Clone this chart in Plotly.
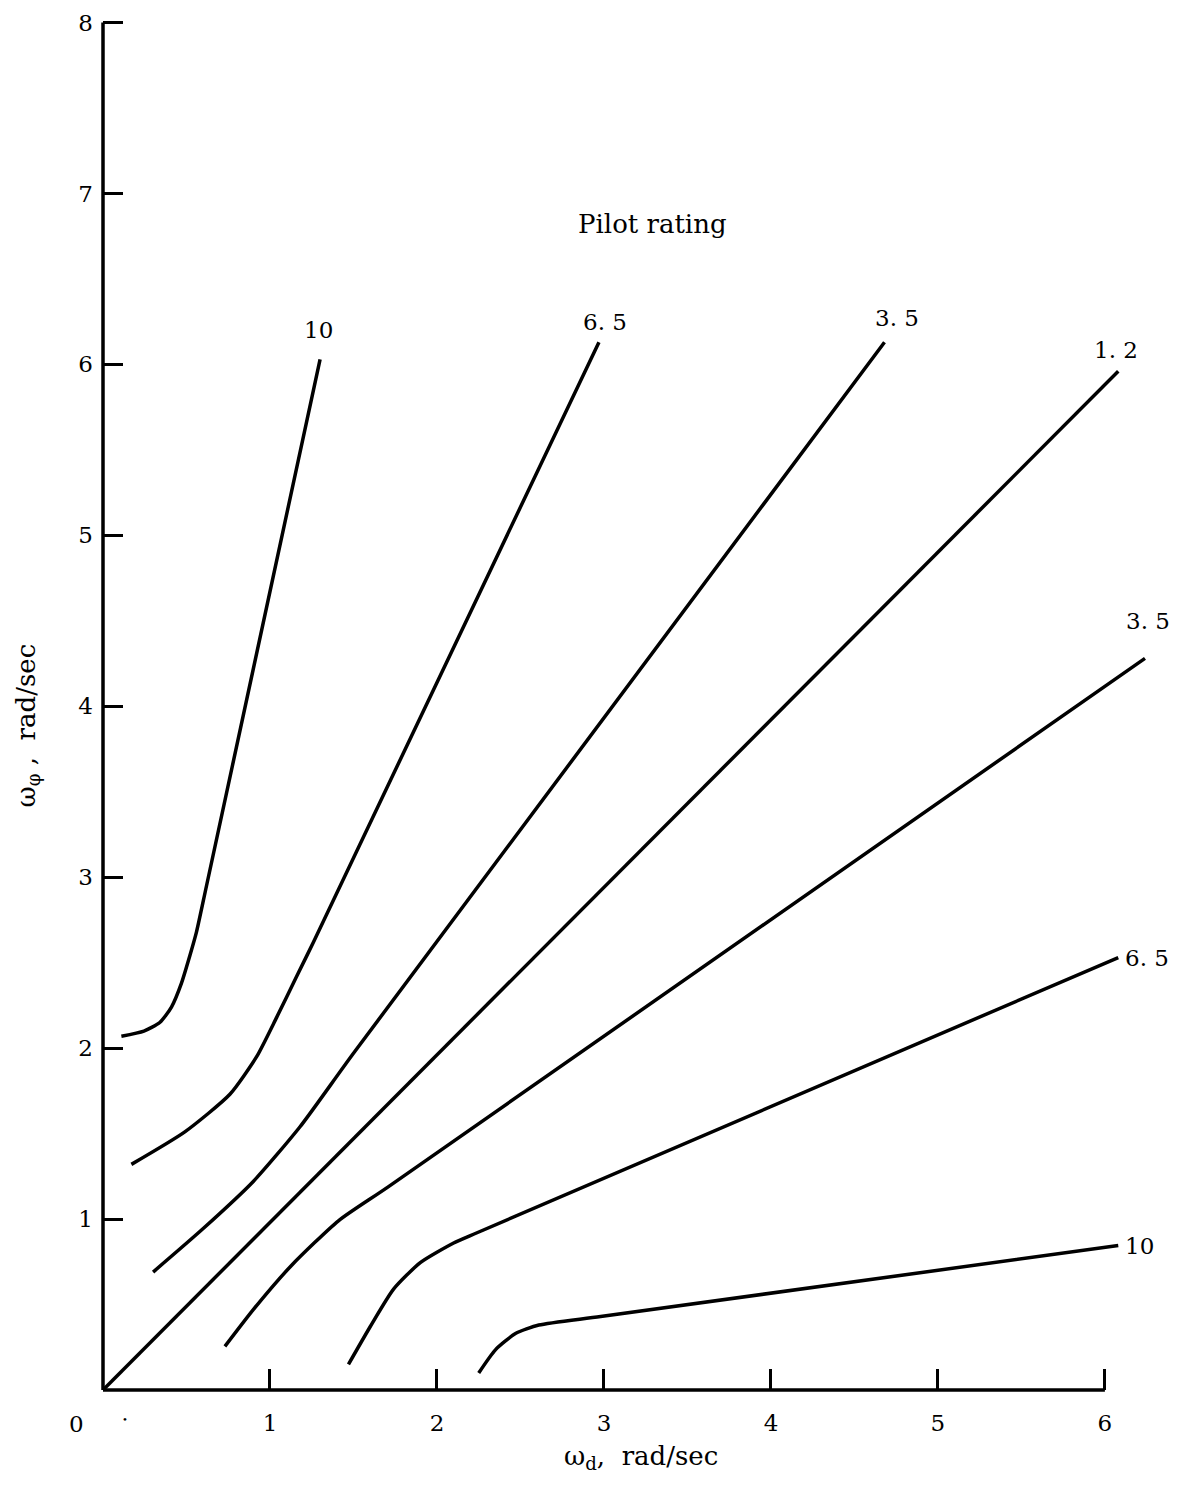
import plotly.graph_objects as go

# ---- data ----
x_tick_vals = [1, 2, 3, 4, 5, 6]
y_tick_vals = [1, 2, 3, 4, 5, 6, 7, 8]

pr10_upper_x = [0.11, 0.245, 0.34, 0.41, 0.47, 0.52, 0.56, 0.62, 1.30]
pr10_upper_y = [2.07, 2.10, 2.15, 2.24, 2.38, 2.54, 2.68, 2.95, 6.03]

pr65_upper_x = [0.17, 0.49, 0.76, 0.92, 1.04, 1.16, 1.26, 2.97]
pr65_upper_y = [1.32, 1.51, 1.73, 1.95, 2.18, 2.42, 2.62, 6.13]

pr35_upper_x = [0.30, 0.595, 0.90, 1.18, 1.50, 4.68]
pr35_upper_y = [0.69, 0.94, 1.22, 1.54, 1.97, 6.13]

pr12_x = [0.0, 6.08]
pr12_y = [0.0, 5.96]

pr35_lower_x = [0.73, 0.90, 1.13, 1.41, 1.71, 6.24]
pr35_lower_y = [0.255, 0.47, 0.73, 0.99, 1.19, 4.28]

pr65_lower_x = [1.47, 1.60, 1.74, 1.90, 2.10, 2.24, 6.08]
pr65_lower_y = [0.15, 0.37, 0.59, 0.745, 0.86, 0.92, 2.53]

pr10_lower_x = [2.25, 2.35, 2.47, 2.61, 2.98, 6.08]
pr10_lower_y = [0.10, 0.235, 0.33, 0.38, 0.43, 0.845]

curves = [
    ("10", pr10_upper_x, pr10_upper_y),
    ("6.5", pr65_upper_x, pr65_upper_y),
    ("3.5", pr35_upper_x, pr35_upper_y),
    ("1.2", pr12_x, pr12_y),
    ("3.5", pr35_lower_x, pr35_lower_y),
    ("6.5", pr65_lower_x, pr65_lower_y),
    ("10", pr10_lower_x, pr10_lower_y),
]

FONT = "DejaVu Serif"

fig = go.Figure()
for name, xs, ys in curves:
    fig.add_trace(go.Scatter(
        x=xs, y=ys, mode="lines", name=name,
        line=dict(color="black", width=3.5, shape="spline", smoothing=0.6),
        showlegend=False, hoverinfo="skip",
    ))

# curve labels (placed relative to each curve's end)
label_specs = [
    (0, "center", -2, 29),
    (1, "center", 6, 20),
    (2, "center", 13, 24),
    (3, "center", -2, 21),
    (4, "center", 3, 37),
    (5, "left", 5, 0),
    (6, "left", 5, 0),
]
annotations = []
for idx, anchor, xs_, ys_ in label_specs:
    name, xs, ys = curves[idx]
    lab = name.replace(".", ". ")
    annotations.append(dict(
        x=xs[-1], y=ys[-1], xref="x", yref="y", text=lab, showarrow=False,
        xanchor=anchor, yanchor="middle", xshift=xs_, yshift=ys_,
        font=dict(family=FONT, size=23, color="black"),
    ))

# plot area: x 103..1155 px, y 14..1390 px
annotations += [
    dict(x=3.29, y=6.82, xref="x", yref="y", text="Pilot rating", showarrow=False,
         xanchor="center", yanchor="middle", font=dict(family=FONT, size=26, color="black")),
    dict(x=-0.0252, y=-0.0247, xref="paper", yref="paper", text="0", showarrow=False,
         xanchor="center", yanchor="middle", font=dict(family=FONT, size=23, color="black")),
    dict(x=0.0209, y=-0.0218, xref="paper", yref="paper", text="•", showarrow=False,
         xanchor="center", yanchor="middle", font=dict(family=FONT, size=10, color="black")),
    dict(x=0.511, y=-0.049, xref="paper", yref="paper", text="ω<sub>d</sub>,  rad/sec",
         showarrow=False, xanchor="center", yanchor="middle",
         font=dict(family=FONT, size=26, color="black")),
    dict(x=-0.0722, y=0.483, xref="paper", yref="paper", text="ω<sub>φ</sub> ,  rad/sec",
         showarrow=False, textangle=-90, xanchor="center", yanchor="middle",
         font=dict(family=FONT, size=26, color="black")),
]

shapes = [
    dict(type="line", xref="x", yref="paper", x0=0, y0=0, x1=6, y1=0,
         line=dict(color="black", width=3.5)),
    dict(type="line", xref="paper", yref="y", x0=0, y0=0, x1=0, y1=8,
         line=dict(color="black", width=3.5)),
]

fig.update_layout(
    width=1179, height=1492,
    margin=dict(l=103, r=24, t=14, b=102, autoexpand=False),
    paper_bgcolor="white", plot_bgcolor="white",
    annotations=annotations, shapes=shapes,
    font=dict(family=FONT, color="black"),
)
fig.update_xaxes(
    range=[0, 6.3], showgrid=False, zeroline=False, showline=False,
    tickmode="array", tickvals=x_tick_vals, ticktext=[str(v) for v in x_tick_vals],
    ticks="inside", ticklen=21, tickwidth=2.5, tickcolor="black",
    tickfont=dict(family=FONT, size=23, color="black"), ticklabelstandoff=17,
    automargin=False,
)
fig.update_yaxes(
    range=[0, 8.05], showgrid=False, zeroline=False, showline=False,
    tickmode="array", tickvals=y_tick_vals, ticktext=[str(v) for v in y_tick_vals],
    ticks="inside", ticklen=20, tickwidth=2.5, tickcolor="black",
    tickfont=dict(family=FONT, size=23, color="black"), ticklabelstandoff=9,
    automargin=False,
)

fig.write_html("out.html")
